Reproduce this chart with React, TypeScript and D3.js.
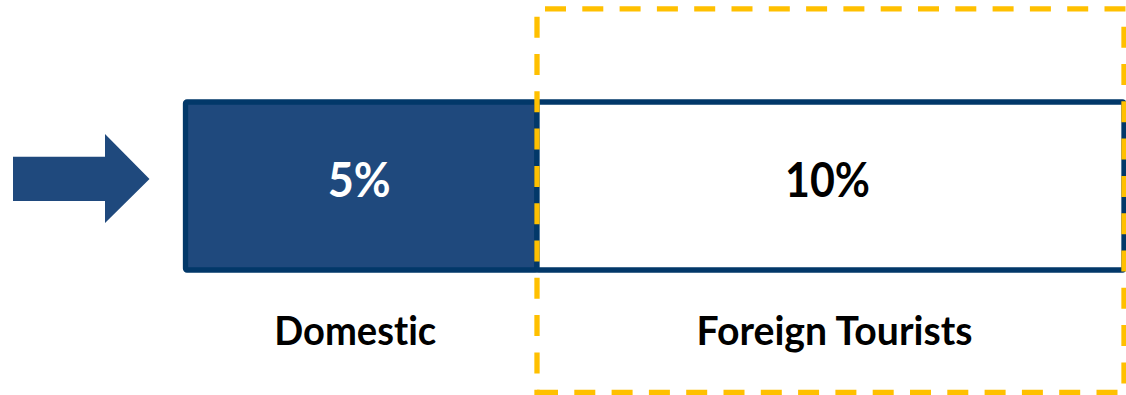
import React from "react";
import * as d3 from "d3";

// ---- data ----
const categories = ["Domestic", "Foreign Tourists"];
const shareValues = [5, 10];
const valueLabels = shareValues.map((v) => `${v}%`);
const highlighted = ["Foreign Tourists"];

// ---- layout / style ----
const W = 1126;
const H = 395;
const NAVY_FILL = "#1F497D";
const NAVY_STROKE = "#023869";
const GOLD = "#FFC000";
const FONT = "Lato, 'Open Sans', sans-serif";

const barTop = 102;
const barBottom = 270;
const barStroke = 5.3;

// horizontal layout of the two segments (diagram, not proportional)
const segX = d3
  .scaleOrdinal<string, [number, number]>()
  .domain(categories)
  .range([
    [185.5, 537],
    [537, 1124],
  ]);
const fillColor = d3
  .scaleOrdinal<string, string>()
  .domain(categories)
  .range([NAVY_FILL, "#ffffff"]);
const valueColor = d3
  .scaleOrdinal<string, string>()
  .domain(categories)
  .range(["#ffffff", "#000000"]);
const valueTextLen = [63, 85];
const labelTextLen = [162, 276];
const valueDx = [-2, -3];
const labelDx = [-6, 4];

const dashArr = "21 16.3";

export default function App() {
  const y = d3.scaleLinear().domain([0, 1]).range([barTop, barBottom]);

  // arrow
  const arrowPath = d3.path();
  arrowPath.moveTo(13, 156.7);
  arrowPath.lineTo(105, 156.7);
  arrowPath.lineTo(105, 134);
  arrowPath.lineTo(149.5, 179);
  arrowPath.lineTo(105, 223);
  arrowPath.lineTo(105, 201);
  arrowPath.lineTo(13, 201);
  arrowPath.closePath();

  const hl = segX(highlighted[0]);
  const boxLeft = hl[0];
  const boxRight = hl[1];
  const boxTop = 8.8;
  const boxBottom = 392.5;

  return (
    <svg
      width={W}
      height={H}
      viewBox={`0 0 ${W} ${H}`}
      style={{ position: "absolute", left: 0, top: 0, background: "#fff" }}
    >
      <path d={arrowPath.toString()} fill={NAVY_FILL} />

      {categories.map((c) => {
        const [x0, x1] = segX(c);
        return (
          <rect
            key={c}
            x={x0}
            y={y(0)}
            width={x1 - x0}
            height={y(1) - y(0)}
            fill={fillColor(c)}
            stroke={NAVY_STROKE}
            strokeWidth={barStroke}
            strokeLinejoin="round"
            rx={1.5}
          />
        );
      })}

      {categories.map((c, i) => {
        const [x0, x1] = segX(c);
        const cx = (x0 + x1) / 2;
        return (
          <g
            key={c + "-t"}
            fontFamily={FONT}
            fontWeight="bold"
            style={{ fontVariantLigatures: "none", fontFeatureSettings: "'liga' 0, 'dlig' 0" }}
          >
            <text
              x={cx + valueDx[i]}
              y={196.5}
              textAnchor="middle"
              fontSize={48}
              fill={valueColor(c)}
              textLength={valueTextLen[i]}
              lengthAdjust="spacingAndGlyphs"
            >
              {valueLabels[i]}
            </text>
            <text
              x={cx + labelDx[i]}
              y={345.3}
              textAnchor="middle"
              fontSize={40}
              fill="#000"
              textLength={labelTextLen[i]}
              lengthAdjust="spacingAndGlyphs"
            >
              {c}
            </text>
          </g>
        );
      })}

      <g stroke={GOLD} strokeWidth={5.3} fill="none" strokeDasharray={dashArr}>
        <line x1={boxLeft + 8} y1={boxTop} x2={W + 10} y2={boxTop} />
        <line x1={boxLeft} y1={16.7} x2={boxLeft} y2={H + 10} />
        <line x1={boxRight} y1={26.7} x2={boxRight} y2={H + 10} />
        <line x1={boxLeft} y1={boxBottom} x2={W + 10} y2={boxBottom} />
      </g>
    </svg>
  );
}
